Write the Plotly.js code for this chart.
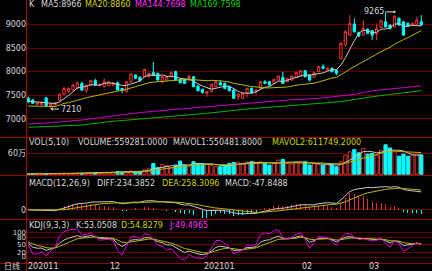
<!DOCTYPE html>
<html><head><meta charset="utf-8">
<script src="https://cdn.plot.ly/plotly-3.0.1.min.js"></script>
<style>html,body{margin:0;padding:0;background:#000;overflow:hidden}#chart{width:432px;height:271px}</style>
</head><body><div id="chart"></div>
<script>
// ---- data ----
const openP  = [7435,7400,7310,7300,7445,7270,7300,7400,7525,7580,7610,7645,7750,7600,7715,7810,7705,7680,7700,7715,
7765,7645,7575,7785,7930,7880,7893,7893,7978,7963,7787,7823,7893,7999,7837,7837,7823,7893,7696,7625,
7540,7576,7682,7766,7752,7682,7611,7470,7435,7555,7646,7576,7646,7787,7787,7752,7823,7879,7788,7823,
7879,7928,8020,7928,7879,7999,8105,8034,8070,8034,8281,8563,8774,9007,8823,8774,8894,8866,8809,8936,
9056,8985,8950,9127,9056,9021,8985,9007,9056];
const highP  = [7470,7420,7360,7370,7470,7340,7360,7540,7680,7670,7740,7790,7790,7730,7830,7850,7750,7860,7800,7780,
7790,7660,7800,7960,7940,7900,8060,7980,8210,7980,7910,7910,8000,8020,7850,7860,7930,7910,7710,7640,
7590,7745,7810,7822,7770,7700,7630,7540,7560,7660,7670,7630,7800,7822,7800,7850,7920,8000,7870,7925,
7990,8040,8040,7940,7990,8120,8160,8090,8090,8050,8633,8880,9197,9127,8850,9091,8920,8880,9021,9100,
9265,9000,9197,9150,9070,9040,9040,9162,9197];
const lowP   = [7330,7320,7290,7280,7260,7210,7270,7380,7500,7560,7590,7620,7590,7555,7700,7700,7690,7665,7690,7700,
7600,7540,7560,7770,7840,7790,7880,7880,7910,7810,7752,7810,7880,7810,7750,7740,7810,7670,7580,7540,
7470,7560,7670,7700,7630,7580,7420,7400,7420,7456,7540,7505,7630,7740,7700,7740,7810,7740,7775,7810,
7865,7910,7880,7788,7865,7985,8050,8020,7985,7928,8246,8528,8750,8830,8730,8760,8790,8668,8668,8920,
8930,8880,8930,8970,8760,8950,8970,8990,8970];
const closeP = [7365,7330,7340,7350,7280,7320,7340,7525,7645,7645,7715,7765,7610,7715,7810,7715,7725,7785,7785,7765,
7610,7600,7785,7950,7860,7810,8048,7963,7928,7823,7893,7893,7978,7823,7766,7752,7907,7682,7597,7555,
7576,7731,7787,7717,7646,7597,7435,7526,7540,7646,7555,7611,7787,7752,7717,7837,7907,7752,7858,7907,
7978,8020,7893,7823,7978,8105,8070,8070,7999,7964,8598,8845,9021,8845,8753,8915,8809,8774,8915,9077,
8950,8915,9162,8985,8774,8964,9021,9091,8985];
const volume = [12000,10000,10000,12000,15000,12000,20000,30000,35000,28000,30000,35000,30000,28000,32000,40000,35000,50000,45000,55000,
75000,70000,80000,95000,80000,85000,130000,160000,314000,190000,286000,248000,190000,267000,381000,267000,220000,362000,314000,314000,
286000,248000,219000,219000,267000,314000,340000,350000,314000,350000,362000,340000,360000,320000,267000,314000,410000,430000,314000,295000,
362000,362000,362000,267000,314000,286000,267000,295000,267000,219000,362000,552000,648000,714000,619000,743000,581000,600000,552000,695000,
850000,760000,648000,524000,581000,524000,552000,581000,559281];
const ma5Head  = [7375,7365,7350,7345];
const ma20Head = [7273,7270,7268,7265,7259,7259,7262,7294,7329,7343,7365,7400,7421,7449,7470,7484,7505,7527,7562];
const ma144Idx = [0,5,12,18,25,33,40,48,58,65,69,73,77,82,88];
const ma144    = [6892,6920,6977,7047,7135,7202,7259,7329,7400,7435,7470,7520,7597,7646,7698];
const ma169Idx = [0,5,12,18,25,33,40,48,58,65,70,77,83,88];
const ma169    = [6822,6836,6871,6942,6998,7047,7118,7202,7273,7330,7365,7470,7541,7598];
const kdjSeed  = [72,62];
const monthIdx  = [0,19,40,62,77];
const monthText = ['202011','12','202101','02','03'];
const priceTicks = [7000,7500,8000,8500,9000];
const volTicks = [600000], volTickText = ['60万'];
const macdTicks = [0];
const kdjTicks = [0,20,50,80,100];
const highLabel = {i:82, v:9265}, lowLabel = {i:5, v:7210};

// ---- indicators from the data ----
const N = closeP.length;
const idx = closeP.map((_,i)=>i);
const avg = a => a.reduce((s,v)=>s+v,0)/a.length;
const ma = (arr,n,head)=>arr.map((v,i)=> i<head.length ? head[i] : avg(arr.slice(i-n+1,i+1)));
const ma5 = ma(closeP,5,ma5Head), ma20 = ma(closeP,20,ma20Head);
const mav = (arr,n)=>arr.map((v,i)=>avg(arr.slice(Math.max(0,i-n+1),i+1)));
const mavol1 = mav(volume,5), mavol2 = mav(volume,10);
let e12=closeP[0], e26=closeP[0], dea=0; const diffA=[], deaA=[], histA=[];
closeP.forEach((c,i)=>{ if(i>0){e12+=(c-e12)*2/13; e26+=(c-e26)*2/27;} const d=e12-e26; if(i>0) dea+=(d-dea)*2/10; diffA.push(d); deaA.push(dea); histA.push(2*(d-dea)); });
let K=kdjSeed[0], D=kdjSeed[1]; const kA=[],dA=[],jA=[];
closeP.forEach((c,i)=>{ const s=Math.max(0,i-8); const lo=Math.min(...lowP.slice(s,i+1)), hi=Math.max(...highP.slice(s,i+1)); const rsv=hi===lo?50:(c-lo)/(hi-lo)*100; K=(2*K+rsv)/3; D=(2*D+K)/3; kA.push(K); dA.push(D); jA.push(3*K-2*D); });

// ---- styling ----
const RED='#f03434', CYAN='#00ffff', WHITE='#d8d8d8', YEL='#d2d200', MAG='#ff30ff', GRN='#00d000';
const up = closeP.map((c,i)=>c>=openP[i]);
const W=432,H=271,L=27;
const px2x = px=>(px-L)/(W-L), py2y = py=>1-py/H;
const line=(y,ax,color)=>({type:'scatter',mode:'lines',x:idx,y,yaxis:ax,line:{color,width:1},hoverinfo:'skip'});
const traces = [
 {type:'candlestick',x:idx,open:openP,high:highP,low:lowP,close:closeP,yaxis:'y',whiskerwidth:0,
  increasing:{line:{color:RED,width:1},fillcolor:'#000'},decreasing:{line:{color:CYAN,width:1},fillcolor:CYAN},hoverinfo:'skip'},
 line(ma5,'y','#c8c8c8'), line(ma20,'y','#b8b800'),
 {type:'scatter',mode:'lines',x:ma144Idx,y:ma144,yaxis:'y',line:{color:'#c800c8',width:1}},
 {type:'scatter',mode:'lines',x:ma169Idx,y:ma169,yaxis:'y',line:{color:'#00b400',width:1}},
 {type:'bar',x:idx,y:volume,yaxis:'y2',width:0.72,marker:{color:up.map(u=>u?'#000':CYAN),line:{color:up.map(u=>u?'#d83030':CYAN),width:1}}},
 line(mavol1,'y2','#c8c8c8'), line(mavol2,'y2','#b8b800'),
 {type:'bar',x:idx,y:histA,yaxis:'y3',width:0.22,marker:{color:histA.map(h=>h>=0?'#e03030':CYAN),line:{width:0}}},
 line(diffA,'y3','#c8c8c8'), line(deaA,'y3','#b8b800'),
 line(kA,'y4','#c8c8c8'), line(dA,'y4','#b8b800'), line(jA,'y4','#e000e0')
];
const tf = {size:8,color:WHITE,family:'DejaVu Sans, Noto Sans CJK SC'};
const yax = (domain,range,tickvals,ticktext,fs)=>({domain,range,tickvals,ticktext,fixedrange:true,showgrid:true,gridcolor:'#640000',gridwidth:1,zeroline:false,showline:false,ticks:'',tickfont:Object.assign({},tf,{size:fs||8}),anchor:'x'});
const lab=(px,py,text,color)=>({xref:'paper',yref:'paper',x:px2x(px),y:py2y(py),xanchor:'left',yanchor:'middle',text,showarrow:false,borderpad:0,font:{size:8,color,family:'DejaVu Sans'}});
const annotations = [
 lab(28,5,'K',WHITE), lab(40,5,'MA5:8966',WHITE), lab(84,5,'MA20:8860',YEL), lab(134,5,'MA144:7698',MAG), lab(189,5,'MA169:7598',GRN),
 lab(28,142,'VOL(5,10)',WHITE), lab(77,142,'VOLUME:559281.0000',WHITE), lab(172,142,'MAVOL1:550481.8000',WHITE), lab(271,142,'MAVOL2:611749.2000',YEL),
 lab(28,183,'MACD(12,26,9)',WHITE), lab(96,183,'DIFF:234.3852',WHITE), lab(161,183,'DEA:258.3096',YEL), lab(224,183,'MACD:-47.8488',WHITE),
 lab(28,225,'KDJ(9,3,3)',WHITE), lab(75,225,'K:53.0508',WHITE), lab(120,225,'D:54.8279',YEL), lab(168,225,'J:49.4965',MAG),
 {xref:'paper',yref:'paper',x:px2x(3),y:py2y(265.5),xanchor:'left',yanchor:'middle',text:'日线',showarrow:false,borderpad:0,font:{size:8,color:WHITE,family:'Noto Sans CJK SC'}},
 {x:highLabel.i,y:highLabel.v,xref:'x',yref:'y',text:String(highLabel.v),showarrow:true,ax:-20,ay:0,arrowhead:6,arrowsize:0.6,arrowwidth:1,arrowcolor:WHITE,font:{size:8,color:WHITE,family:'DejaVu Sans'}},
 {x:lowLabel.i,y:lowLabel.v,xref:'x',yref:'y',text:String(lowLabel.v),showarrow:true,ax:20,ay:0,arrowhead:1,arrowsize:0.7,arrowwidth:1,arrowcolor:WHITE,font:{size:8,color:WHITE,family:'DejaVu Sans'}}
].concat(monthIdx.map((m,k)=>({xref:'x',yref:'paper',x:m,y:py2y(266.5),xanchor:'left',yanchor:'middle',xshift:k?-4:-1,text:monthText[k],showarrow:false,borderpad:0,font:{size:8,color:WHITE,family:'DejaVu Sans'}})));
const hl=(py)=>({type:'line',xref:'paper',yref:'paper',x0:-L/(W-L),x1:1,y0:py2y(py),y1:py2y(py),line:{color:'#a00000',width:1}});
const layout = {
 width:W,height:H,margin:{l:L,r:0,t:0,b:0,pad:0},paper_bgcolor:'#000',plot_bgcolor:'#000',showlegend:false,hovermode:false,
 boxgap:0.28,bargap:0,
 xaxis:{domain:[0,1],range:[-0.29,90.4],showticklabels:false,showgrid:false,zeroline:false,rangeslider:{visible:false},fixedrange:true,anchor:'y4',ticks:''},
 yaxis: yax([py2y(137.5),1],[6607,9516],priceTicks),
 yaxis2:yax([py2y(175),py2y(138)],[-20000,1047000],volTicks,volTickText),
 yaxis3:yax([py2y(219.5),py2y(176)],[-123.5,435.5],macdTicks),
 yaxis4:yax([py2y(263),py2y(220)],[-24.5,151],kdjTicks,undefined,7),
 annotations,
 shapes:[hl(137.5),hl(175.5),hl(219.5),hl(263.5),
  {type:'line',xref:'paper',yref:'paper',x0:px2x(26.5),x1:px2x(26.5),y0:0,y1:1,line:{color:'#b00000',width:1}}]
};
Plotly.newPlot('chart',traces,layout,{staticPlot:true,displayModeBar:false});
</script></body></html>
